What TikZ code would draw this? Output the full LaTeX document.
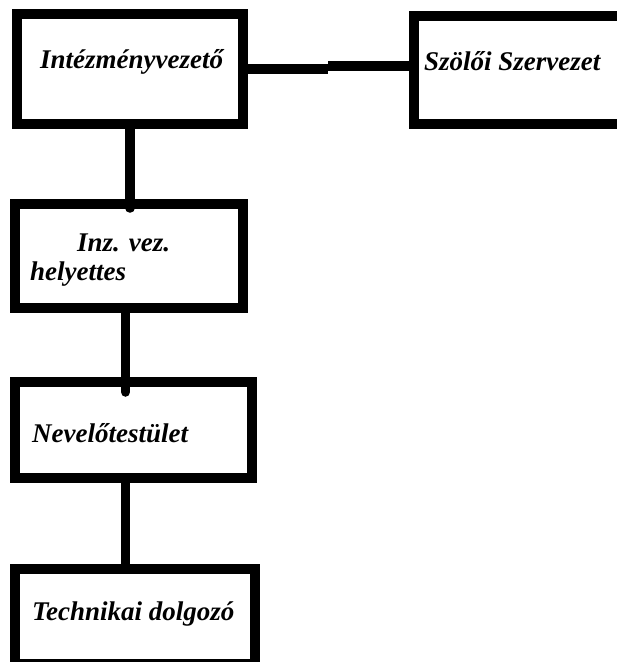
\documentclass[tikz,border=0pt]{standalone}
\usepackage{fontspec}
\setmainfont{Liberation Serif}
\usetikzlibrary{calc}
\newlength{\du}
\setlength{\du}{1\unitlength}
\definecolor{dialinecolor}{rgb}{0.000000, 0.000000, 0.000000}
\tikzset{
  dobozkeret/.style={draw=dialinecolor, fill=white, line width=10\du, inner sep=0pt},
  felirat/.style={anchor=base west, inner sep=0pt, text=dialinecolor, font=\fontsize{27}{29}\selectfont\bfseries\itshape},
  vonal/.style={draw=dialinecolor, line width=9.5\du}
}
\begin{document}
\begin{tikzpicture}
\pgftransformxscale{1.000000}
\pgftransformyscale{-1.000000}
\fill[white] (0\du,0\du) rectangle (617\du,662\du);
\useasboundingbox (0\du,0\du) rectangle (617\du,662\du);
% dobozok
\node[dobozkeret, minimum width=226\du, minimum height=110\du] (ivez) at (130\du,69\du) {};
\node[dobozkeret, minimum width=208.5\du, minimum height=108\du] (szsz) at (517.75\du,70\du) {};
\node[dobozkeret, minimum width=228\du, minimum height=104\du] (ihely) at (129\du,256\du) {};
\node[dobozkeret, minimum width=237\du, minimum height=96\du] (nev) at (133.5\du,430\du) {};
\node[dobozkeret, minimum width=240\du, minimum height=95\du] (tech) at (135\du,616.5\du) {};
% vonalak
\coordinate (jog) at (328\du,66\du);
\draw[vonal] (ivez.east) -- (ivez.east -| jog);
\draw[vonal] (jog) -- (jog -| szsz.west);
\draw[vonal, line cap=round] (ivez.south) -- ($(ivez.south |- ihely.north)+(0,9\du)$);
\coordinate (c2) at ($(ihely.south)+(-3.5\du,0)$);
\draw[vonal, line cap=round] (c2) -- ($(c2 |- nev.north)+(0,15\du)$);
\coordinate (c3) at ($(nev.south)+(-8\du,0)$);
\draw[vonal] (c3) -- (c3 |- tech.north);
% feliratok
\node[felirat] (ivez-t) at (40\du,68\du) {Intézményvezető};
\node[felirat] (szsz-t) at (424\du,70\du) {Szölői Szervezet};
\node[felirat] (ihely-t1) at (77\du,251\du) {Inz. vez.};
\node[felirat] (ihely-t2) at (30\du,280\du) {helyettes};
\node[felirat] (nev-t) at (32\du,442\du) {Nevelőtestület};
\node[felirat] (tech-t) at (32\du,620\du) {Technikai dolgozó};
\end{tikzpicture}
\end{document}
